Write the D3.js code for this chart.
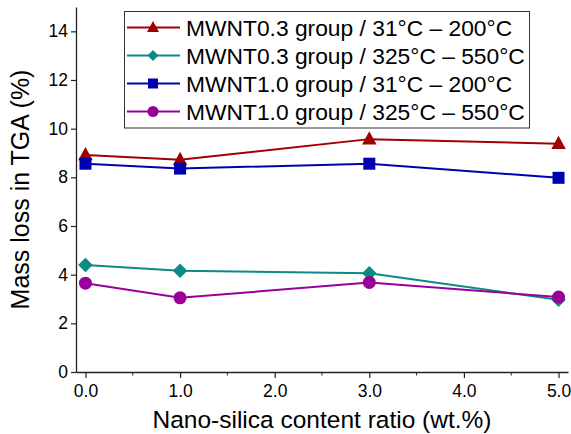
<!DOCTYPE html>
<html>
<head>
<meta charset="utf-8">
<script src="https://cdn.jsdelivr.net/npm/d3@7"></script>
<style>
  html, body { margin: 0; padding: 0; background: #fff; }
  svg { display: block; font-family: "Liberation Sans", Arial, sans-serif; }
</style>
</head>
<body>
<svg id="chart" width="571" height="434"></svg>
<script>
const xValues = [0, 1, 3, 5];
const seriesNames = [
  "MWNT0.3 group / 31°C – 200°C",
  "MWNT0.3 group / 325°C – 550°C",
  "MWNT1.0 group / 31°C – 200°C",
  "MWNT1.0 group / 325°C – 550°C"
];
const mwnt03Low = [8.92, 8.72, 9.57, 9.38];
const mwnt03High = [4.40, 4.16, 4.06, 2.97];
const mwnt10Low = [8.56, 8.36, 8.56, 7.98];
const mwnt10High = [3.65, 3.05, 3.68, 3.08];
const seriesColors = ["#a00000", "#0b8a86", "#0000b0", "#990099"];
const seriesSymbols = ["triangle", "diamond", "square", "circle"];
const xTicks = [0, 1, 2, 3, 4, 5];
const xMinorTicks = [0.5, 1.5, 2.5, 3.5, 4.5];
const yTicks = [0, 2, 4, 6, 8, 10, 12, 14];
const xTitle = "Nano-silica content ratio (wt.%)";
const yTitle = "Mass loss in TGA (%)";

const seriesValues = [mwnt03Low, mwnt03High, mwnt10Low, mwnt10High];

const svg = d3.select("#chart");
const x = d3.scaleLinear().domain([-0.1, 5.1]).range([76, 568]);
const y = d3.scaleLinear().domain([0, 15]).range([372, 7]);

const axisColor = "#222";

// X axis
const gx = svg.append("g").attr("transform", `translate(0,${y(0)})`)
  .call(d3.axisBottom(x).tickValues(xTicks).tickFormat(d3.format(".1f")).tickSize(6).tickPadding(7).tickSizeOuter(0));
gx.selectAll("text").attr("font-size", 17.5).attr("fill", "#000").attr("font-family", "Liberation Sans, Arial, sans-serif");
gx.append("g").selectAll("line").data(xMinorTicks).join("line")
  .attr("x1", d => x(d)).attr("x2", d => x(d)).attr("y1", 0).attr("y2", 3.5)
  .attr("stroke", axisColor);

// Y axis
const gy = svg.append("g").attr("transform", `translate(${x(-0.1)},0)`)
  .call(d3.axisLeft(y).tickValues(yTicks).tickFormat(d3.format("d")).tickSize(5).tickPadding(3).tickSizeOuter(0));
gy.selectAll("text").attr("font-size", 17.5).attr("fill", "#000").attr("font-family", "Liberation Sans, Arial, sans-serif");

svg.selectAll(".domain").attr("stroke", axisColor).attr("stroke-width", 1.3);
svg.selectAll(".tick line").attr("stroke", axisColor).attr("stroke-width", 1.2);

// Titles
svg.append("text").attr("x", (x(-0.1) + x(5.1)) / 2) .attr("y", 428)
  .attr("text-anchor", "middle").attr("font-size", 24.5).attr("fill", "#000").text(xTitle);
svg.append("text").attr("transform", `translate(29,${(y(0) + y(15)) / 2}) rotate(-90)`)
  .attr("text-anchor", "middle").attr("font-size", 25).attr("fill", "#000").text(yTitle);

function drawMarker(g, type, cx, cy, s, color) {
  if (type === "triangle") {
    const h = s * 0.92;
    g.append("path").attr("d", `M${cx},${cy - h * 0.6} L${cx + s / 2},${cy + h * 0.4} L${cx - s / 2},${cy + h * 0.4} Z`).attr("fill", color);
  } else if (type === "diamond") {
    const r = s / 2;
    g.append("path").attr("d", `M${cx},${cy - r} L${cx + r},${cy} L${cx},${cy + r} L${cx - r},${cy} Z`).attr("fill", color);
  } else if (type === "square") {
    g.append("rect").attr("x", cx - s / 2).attr("y", cy - s / 2).attr("width", s).attr("height", s).attr("fill", color);
  } else {
    g.append("circle").attr("cx", cx).attr("cy", cy).attr("r", s / 2).attr("fill", color);
  }
}

const markerSize = { triangle: 14.5, diamond: 14.5, square: 12, circle: 13 };
const line = d3.line().x(d => x(d[0])).y(d => y(d[1]));

seriesValues.forEach((vals, i) => {
  const pts = xValues.map((xv, j) => [xv, vals[j]]);
  const g = svg.append("g");
  g.append("path").attr("d", line(pts)).attr("fill", "none")
    .attr("stroke", seriesColors[i]).attr("stroke-width", 2);
  pts.forEach(p => drawMarker(g, seriesSymbols[i], x(p[0]), y(p[1]), markerSize[seriesSymbols[i]], seriesColors[i]));
});

// Legend
const lg = svg.append("g");
lg.append("rect").attr("x", 124.5).attr("y", 11.5).attr("width", 405).attr("height", 116.5)
  .attr("fill", "#fff").attr("stroke", "#333").attr("stroke-width", 1);
const legendMarker = { triangle: 12, diamond: 11, square: 10, circle: 11 };
seriesNames.forEach((name, i) => {
  const cy = 27.5 + i * 28;
  lg.append("line").attr("x1", 127).attr("x2", 180).attr("y1", cy).attr("y2", cy)
    .attr("stroke", seriesColors[i]).attr("stroke-width", 2);
  drawMarker(lg, seriesSymbols[i], 153, cy, legendMarker[seriesSymbols[i]], seriesColors[i]);
  lg.append("text").attr("x", 186).attr("y", cy + 8.2).attr("font-size", 22.8)
    .attr("fill", "#000").text(name);
});
</script>
</body>
</html>
